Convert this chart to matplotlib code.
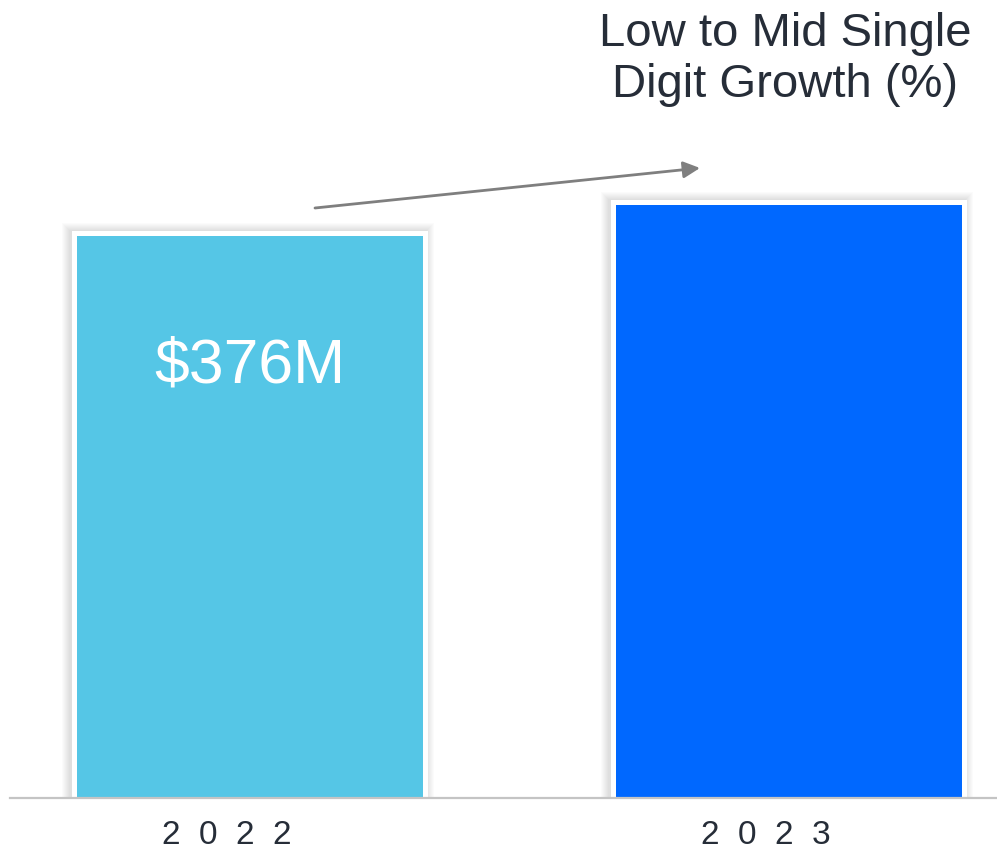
import matplotlib
matplotlib.use("Agg")
import matplotlib.pyplot as plt
import matplotlib.transforms as mtransforms
import numpy as np

# ---- data ----
categories = ["2022", "2023"]
tick_labels = ["2  0  2  2", "2  0  2  3"]
values = [376, 397]          # $M (2023)
value_labels = ["$376M", ""]
bar_colors = ["#55C6E6", "#0068FF"]
annotation = "Low to Mid Single\nDigit Growth (%)"

W, H, DPI = 997, 855, 100
fig = plt.figure(figsize=(W / DPI, H / DPI), dpi=DPI)
fig.patch.set_facecolor("white")

# axes: left 10px, bottom baseline at 798px from top, top at 100px
ax_left, ax_right, ax_base, ax_top = 10, 997, 798, 100
ax = fig.add_axes([ax_left / W, (H - ax_base) / H, (ax_right - ax_left) / W, (ax_base - ax_top) / H])

spacing_px = 538.5
bar_w_px = 346
x = np.arange(len(categories))
xmin = -(250 - ax_left) / spacing_px
xmax = (len(categories) - 1) + (ax_right - 788.5) / spacing_px
ax.set_xlim(xmin, xmax)
ymax = 467.0
ax.set_ylim(0, ymax)

px_x = 1 / spacing_px
px_y = ymax / (ax_base - ax_top)

vals = np.array(values, dtype=float)
width = bar_w_px * px_x

# soft shadow layers
for k in range(1, 9):
    ax.bar(x - 2 * px_x, vals + (5 + k) * px_y, width=width + 2 * (5 + k) * px_x,
           color="black", alpha=0.016, linewidth=0, zorder=1)
# white frame
ax.bar(x, vals + 5 * px_y, width=width + 10 * px_x, color="white", linewidth=0, zorder=2)
# bars
ax.bar(x, vals, width=width, color=bar_colors, linewidth=0, zorder=3)

# value label
for xi, v, lab in zip(x, vals, value_labels):
    if lab:
        ax.text(xi, v - 98, lab, ha="center", va="baseline", color="white",
                fontsize=45, family=["Liberation Sans", "DejaVu Sans"], zorder=4)

# baseline
ax.axhline(0, color="#c4c4c4", lw=1.6, zorder=5, clip_on=False)

for s in ax.spines.values():
    s.set_visible(False)
ax.set_yticks([])
ax.set_xticks(x)
ax.set_xticklabels(tick_labels, fontsize=24, color="#262D38", family=["Liberation Sans", "DejaVu Sans"])
ax.tick_params(axis="x", length=0, pad=16)
shift = mtransforms.ScaledTranslation(-23 / DPI, 0, fig.dpi_scale_trans)
for lab in ax.get_xticklabels():
    lab.set_transform(lab.get_transform() + shift)

# arrow
x0 = (315 - 250) * px_x
y0 = (ax_base - 208) * px_y
x1 = (700 - 250) * px_x
y1 = (ax_base - 168) * px_y
ax.annotate("", xy=(x1, y1), xytext=(x0, y0),
            arrowprops=dict(arrowstyle="-|>", color="#7F7F7F", lw=2, mutation_scale=25,
                            shrinkA=0, shrinkB=0), annotation_clip=False)

# growth annotation
ax.text((785 - 250) * px_x, (ax_base - 97) * px_y, annotation, ha="center", va="baseline",
        multialignment="center", fontsize=34, color="#262D38", linespacing=1.2,
        family=["Liberation Sans", "DejaVu Sans"], clip_on=False)

fig.savefig("out.png", dpi=DPI)
